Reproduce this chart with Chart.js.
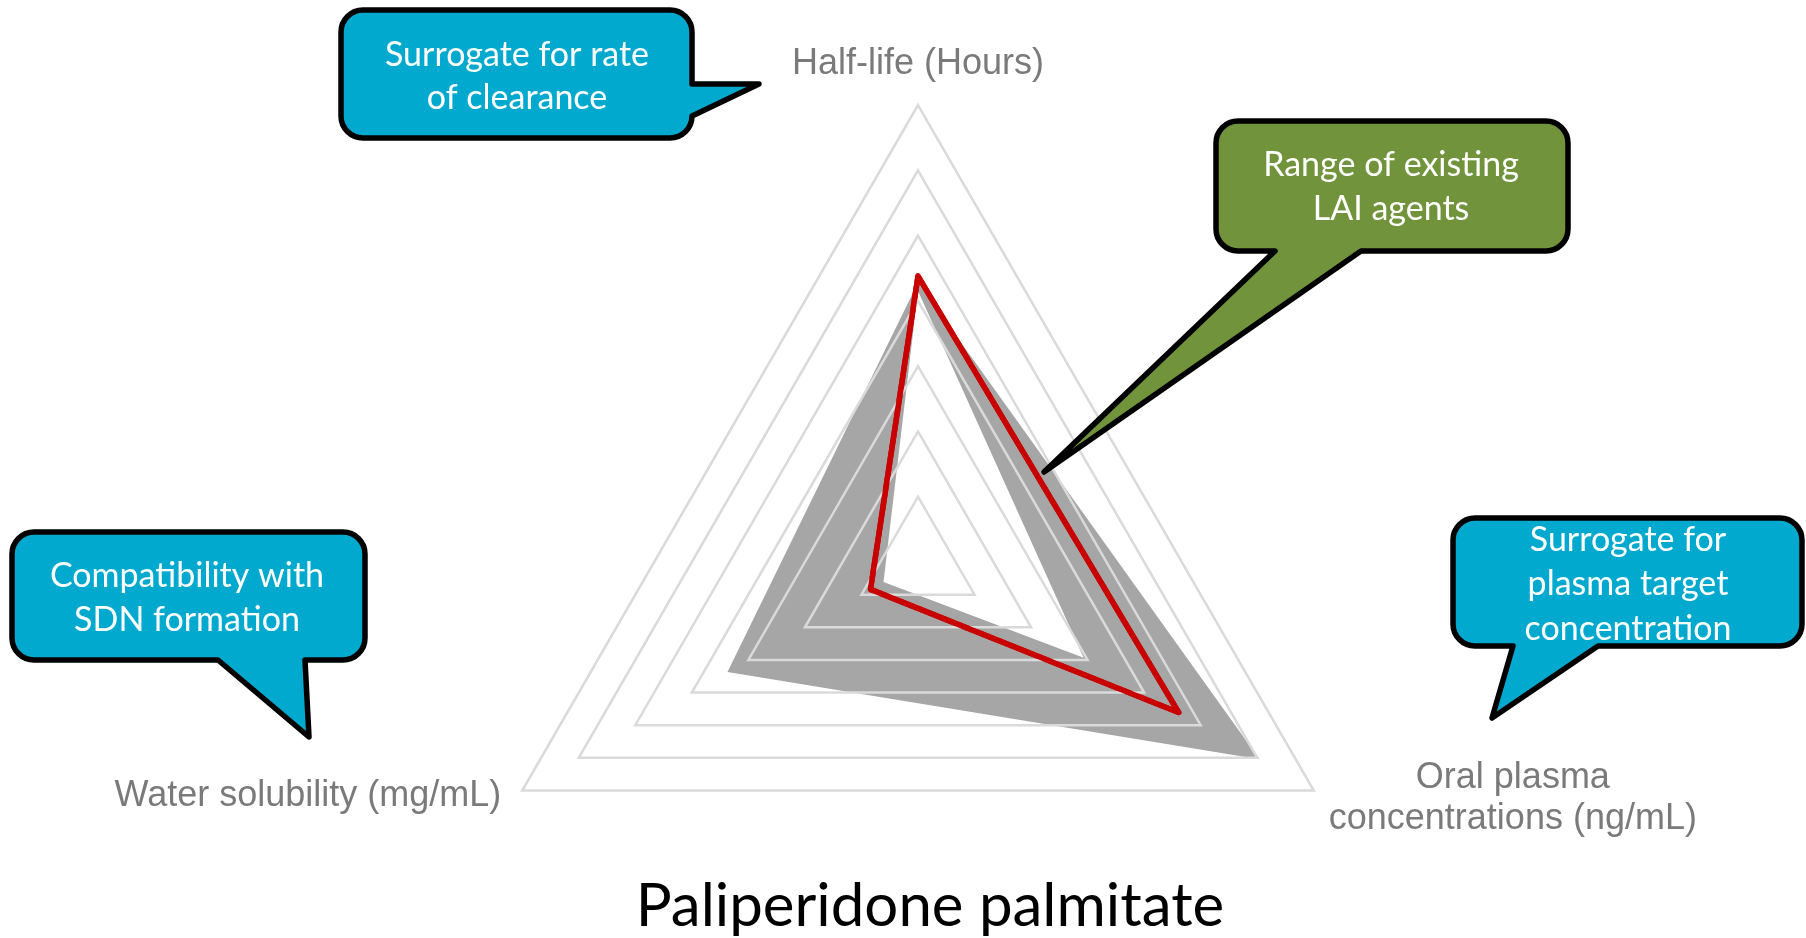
<!DOCTYPE html>
<html>
<head>
<meta charset="utf-8">
<title>Paliperidone palmitate</title>
<script src="https://cdn.jsdelivr.net/npm/chart.js@4.4.1/dist/chart.umd.min.js"></script>
<style>
	html, body { margin: 0; padding: 0; background: #fff; overflow: hidden; }
	#wrap { position: relative; width: 1806px; height: 1019px; }
</style>
</head>
<body>
<div id="wrap"><canvas id="radarChart"></canvas></div>
<script>
// axes, clockwise from the top
const axisLabels = [
	['Half-life (Hours)'],
	['Oral plasma', 'concentrations (ng/mL)'],
	['Water solubility (mg/mL)']
];
// values
const paliperidone = [4.38, 4.61, 0.84];
const laiRangeMax = [4.28, 6.04, 3.37];
const laiRangeMin = [4.15, 2.93, 0.61];
const ringMax = 7;
const chartTitle = 'Paliperidone palmitate';

// speech bubbles
const BLUE = '#00a9cd';
const GREEN = '#71933b';
const callouts = [
	{ lines: ['Surrogate for rate', 'of clearance'], color: BLUE, box: [341, 10, 692, 138],
		tail: { side: 'right', a: 84, b: 116, tip: [759, 84] }, cx: 517, ys: [55, 98] },
	{ lines: ['Range of existing', 'LAI agents'], color: GREEN, box: [1216, 121, 1568, 251],
		tail: { side: 'bottom', a: 1275, b: 1361, tip: [1044, 472] }, cx: 1391, ys: [165, 209] },
	{ lines: ['Compatibility with', 'SDN formation'], color: BLUE, box: [12, 532, 365, 660],
		tail: { side: 'bottom', a: 218, b: 305, tip: [309, 737] }, cx: 187, ys: [576, 620] },
	{ lines: ['Surrogate for', 'plasma target', 'concentration'], color: BLUE, box: [1453, 518, 1802, 646],
		tail: { side: 'bottom', a: 1513, b: 1598, tip: [1492, 718] }, cx: 1628, ys: [540, 584, 629] }
];

function bubblePath(ctx, c) {
	const [x1, y1, x2, y2] = c.box;
	const r = 22;
	const t = c.tail;
	ctx.beginPath();
	ctx.moveTo(x1 + r, y1);
	ctx.lineTo(x2 - r, y1);
	ctx.arcTo(x2, y1, x2, y1 + r, r);
	if (t.side === 'right') {
		ctx.lineTo(x2, t.a);
		ctx.lineTo(t.tip[0], t.tip[1]);
		ctx.lineTo(x2, t.b);
	}
	ctx.lineTo(x2, y2 - r);
	ctx.arcTo(x2, y2, x2 - r, y2, r);
	if (t.side === 'bottom') {
		ctx.lineTo(t.b, y2);
		ctx.lineTo(t.tip[0], t.tip[1]);
		ctx.lineTo(t.a, y2);
	}
	ctx.lineTo(x1 + r, y2);
	ctx.arcTo(x1, y2, x1, y2 - r, r);
	ctx.lineTo(x1, y1 + r);
	ctx.arcTo(x1, y1, x1 + r, y1, r);
	ctx.closePath();
}

const extrasPlugin = {
	id: 'extras',
	afterDraw(chart) {
		const ctx = chart.ctx;
		const scale = chart.scales.r;

		// red line back on top of the grid
		chart.getDatasetMeta(0).dataset.draw(ctx, chart.chartArea);

		// axis labels
		ctx.save();
		ctx.fillStyle = '#7a7a7a';
		ctx.font = '36px "Liberation Sans", Arial, sans-serif';
		let p = scale.getPointPosition(0, scale.drawingArea);
		ctx.textAlign = 'center';
		ctx.textBaseline = 'alphabetic';
		ctx.fillText(axisLabels[0][0], p.x, p.y - 31);

		p = scale.getPointPosition(1, scale.drawingArea);
		const w = Math.max(...axisLabels[1].map(s => ctx.measureText(s).width));
		ctx.textBaseline = 'middle';
		axisLabels[1].forEach((s, i) => ctx.fillText(s, p.x + 15 + w / 2, p.y - 12 + i * 41));

		p = scale.getPointPosition(2, scale.drawingArea);
		ctx.textAlign = 'right';
		ctx.fillText(axisLabels[2][0], p.x - 21, p.y + 6);
		ctx.restore();

		// callouts
		callouts.forEach(c => {
			ctx.save();
			bubblePath(ctx, c);
			ctx.fillStyle = c.color;
			ctx.fill();
			ctx.lineWidth = 5.5;
			ctx.lineJoin = 'round';
			ctx.strokeStyle = '#000';
			ctx.stroke();
			ctx.fillStyle = '#fff';
			ctx.font = '34px Lato, "Open Sans", sans-serif';
			ctx.textAlign = 'center';
			ctx.textBaseline = 'middle';
			c.lines.forEach((s, i) => ctx.fillText(s, c.cx, c.ys[i]));
			ctx.restore();
		});

		// title under the chart
		ctx.save();
		ctx.fillStyle = '#000';
		ctx.font = '60px Lato, "Open Sans", sans-serif';
		ctx.textAlign = 'center';
		ctx.textBaseline = 'alphabetic';
		ctx.fillText(chartTitle, 930, 926);
		ctx.restore();
	}
};

const ctx = document.getElementById('radarChart').getContext('2d');
const radarChart = new Chart(ctx, {
	type: 'radar',
	data: {
		labels: axisLabels.map(l => l.join(' ')),
		datasets: [{
			label: 'Paliperidone palmitate',
			data: paliperidone,
			borderColor: '#c80000',
			borderWidth: 5.5,
			borderJoinStyle: 'round',
			fill: false,
			pointRadius: 0
		}, {
			label: 'Existing LAI agents (max)',
			data: laiRangeMax,
			backgroundColor: '#a6a6a6',
			borderColor: 'rgba(0,0,0,0)',
			borderWidth: 0,
			fill: '+1',
			pointRadius: 0
		}, {
			label: 'Existing LAI agents (min)',
			data: laiRangeMin,
			borderColor: 'rgba(0,0,0,0)',
			borderWidth: 0,
			fill: false,
			pointRadius: 0
		}]
	},
	options: {
		responsive: true,
		maintainAspectRatio: false,
		animation: false,
		layout: { padding: { left: 461, right: 431, top: 105, bottom: 0 } },
		plugins: {
			legend: { display: false },
			tooltip: { enabled: false }
		},
		scales: {
			r: {
				min: 0,
				max: ringMax,
				ticks: { display: false, stepSize: 1, z: 1 },
				grid: { color: '#dadada', lineWidth: 2.5, z: 1 },
				angleLines: { display: false },
				pointLabels: { display: false }
			}
		}
	},
	plugins: [extrasPlugin]
});
</script>
</body>
</html>
